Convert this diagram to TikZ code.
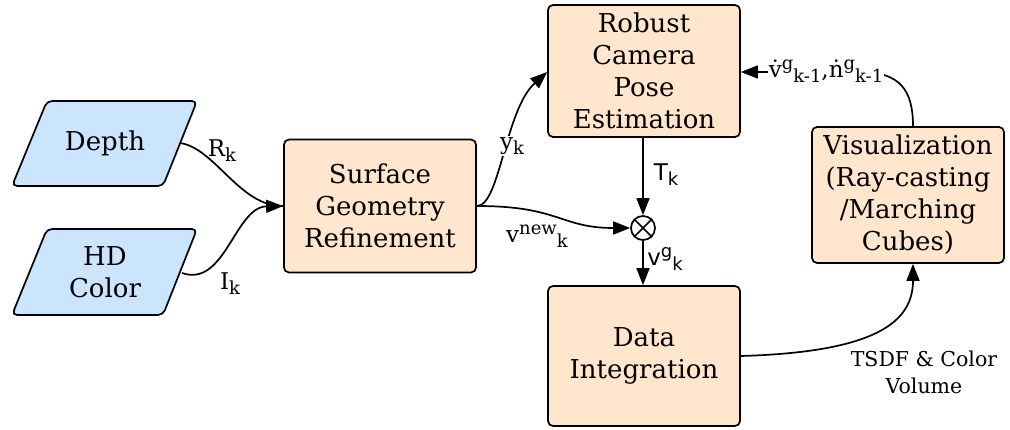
\documentclass[tikz,border=0pt]{standalone}
\usepackage{fontspec}
\setmainfont{DejaVu Serif}
\newfontfamily\labelsans{DejaVu Sans}
\usetikzlibrary{arrows.meta}
\definecolor{procfill}{HTML}{FFE6CC}
\definecolor{datafill}{HTML}{CCE5FF}
% index marks for the edge labels
\newcommand\lsub[1]{\raisebox{-5pt}{\fontsize{18}{18}\selectfont#1}}
\newcommand\lsup[1]{\raisebox{8pt}{\fontsize{18}{18}\selectfont#1}}
\tikzset{
  proc/.style={draw=black, line width=1.7pt, fill=procfill, rounded corners=5pt,
    align=center, inner sep=0pt,
    font=\fontsize{26}{32}\selectfont},
  iobox/.style={draw=black, line width=1.7pt, fill=datafill, rounded corners=5pt},
  iotext/.style={align=center, font=\fontsize{26}{32}\selectfont},
  flow/.style={line width=1.7pt, -{Triangle[length=17pt,width=13pt]}},
  plain/.style={line width=1.7pt},
  lbl/.style={inner sep=1pt, font=\fontsize{23}{27}\selectfont},
  slbl/.style={inner sep=1pt, font=\labelsans\fontsize{23}{27}\selectfont},
}
\begin{document}
\begin{tikzpicture}[x=1pt, y=-1pt]
\useasboundingbox (0,0) rectangle (1010,430);

% input parallelograms
\draw[iobox] (12,186) -- (47,101) -- (197,101) -- (163,186) -- cycle;
\node[iotext] (depth) at (105,143) {Depth};
\coordinate (depthR) at (180,143);
\draw[iobox] (12,315) -- (47,229) -- (197,229) -- (163,315) -- cycle;
\node[iotext] (hdcolor) at (105,272) {HD\\Color};
\coordinate (hdR) at (182,273);

% processing blocks
\node[proc, minimum width=192pt, minimum height=133pt] (surf) at (380,206)
  {Surface\\Geometry\\Refinement};
\node[proc, minimum width=192pt, minimum height=132pt] (pose) at (644,71)
  {Robust\\Camera\\Pose\\Estimation};
\node[proc, minimum width=192pt, minimum height=140pt] (integ) at (644,356)
  {Data\\Integration};
\node[proc, minimum width=192pt, minimum height=136pt] (viz) at (908,195)
  {Visualization\\(Ray-casting\\/Marching\\Cubes)};

% transform operator
\node[draw=black, line width=1.7pt, fill=white, circle, minimum size=24pt, inner sep=0pt] (mult) at (643,228) {};
\draw[line width=1.7pt] (mult.north west) -- (mult.south east)
  (mult.north east) -- (mult.south west);

% inputs into refinement
\draw[plain] (depthR) .. controls (215,148) and (240,207) .. (surf.west);
\draw[flow] (hdR) .. controls (225,288) and (235,207) .. (surf.west);
\node[lbl] (rk) at (222,151) {R\lsub{k}};
\node[lbl] (ik) at (230,284) {I\lsub{k}};

% refinement outputs
\draw[flow] (surf.east) .. controls (500,206) and (505,110) .. (pose.west |- 0,72);
\node[lbl, fill=white] (yk) at (512,146) {y\lsub{k}};
\draw[flow] (surf.east) .. controls (560,206) and (560,228) .. (mult.west);
\node[lbl] (vnew) at (537,236) {v\lsup{new}\lsub{k}};

% pose and integration chain
\draw[flow] (pose.south -| mult) -- (mult.north);
\node[slbl] (tk) at (666,175) {T\lsub{k}};
\draw[flow] (mult.south) -- (integ.north -| mult);
\node[slbl] (vg) at (665,259) {v\lsup{g}\lsub{k}};

% volume to visualization
\draw[flow] (integ.east) .. controls (880,352) and (913,320) .. (viz.south -| 913,0);
\node[lbl, align=center, font=\fontsize{20.5}{27}\selectfont] (tsdf) at (924,372)
  {TSDF \& Color\\Volume};

% rendered model back to pose estimation
\draw[flow] (viz.north -| 913,0) .. controls (913,90) and (900,72) .. (860,72)
  -- (pose.east |- 0,72);
\node[lbl, fill=white] (prev) at (826,71)
  {\.v\lsup{g}\lsub{k-1},\.n\lsup{g}\lsub{k-1}};
\end{tikzpicture}
\end{document}
